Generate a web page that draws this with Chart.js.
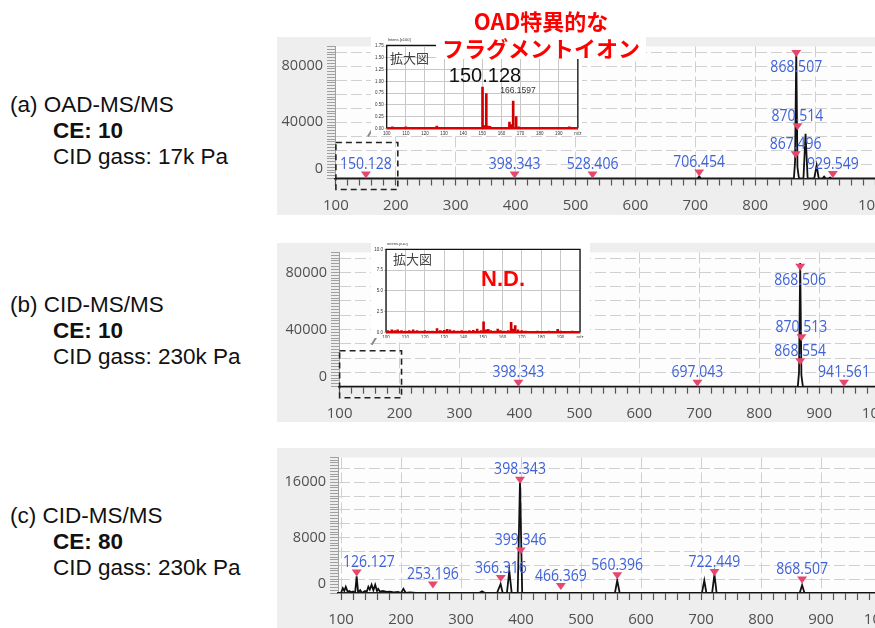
<!DOCTYPE html>
<html lang="ja">
<head>
<meta charset="utf-8">
<title>OAD / CID MS/MS</title>
<script src="https://cdn.jsdelivr.net/npm/chart.js@4.4.1/dist/chart.umd.min.js"></script>
<style>
  body { margin: 0; width: 875px; height: 628px; overflow: hidden; position: relative; background: #fff; font-family: "Liberation Sans", Arial, sans-serif; }
  .panel { position: absolute; left: 277px; width: 598px; background: #eeeeee; }
  canvas { position: absolute; }
  .cond { position: absolute; left: 10px; font-size: 22.5px; line-height: 26px; color: #111; white-space: nowrap; }
  .cond .ind { margin-left: 43px; }
  .txt { position: absolute; white-space: nowrap; transform: translate(-50%, -50%); }
  .tl { position: absolute; white-space: nowrap; transform: translateY(-50%); }
  .red { color: #ff0000; font-family: "Noto Sans CJK JP", sans-serif; font-weight: bold; font-size: 22px; }
  .zoomTitle { font-family: "Noto Sans CJK JP", sans-serif; font-size: 13px; color: #444; }
</style>
</head>
<body>

<div class="panel" style="top:37px;height:178px"></div>
<div class="panel" style="top:243px;height:179px"></div>
<div class="panel" style="top:448px;height:180px"></div>

<canvas id="chartA" width="633" height="182" style="left:277px;top:33px"></canvas>
<canvas id="chartB" width="637" height="183" style="left:277px;top:239px"></canvas>
<canvas id="chartC" width="639" height="184" style="left:277px;top:444px"></canvas>

<canvas id="insetA" width="211" height="100" style="left:371px;top:35px;background:#fff"></canvas>
<canvas id="insetB" width="219" height="95" style="left:371px;top:243px;background:#fff"></canvas>

<!-- conditions -->
<div class="cond" style="top:92px">
  <div>(a) OAD-MS/MS</div>
  <div class="ind"><b>CE: 10</b></div>
  <div class="ind">CID gass: 17k Pa</div>
</div>
<div class="cond" style="top:292px">
  <div>(b) CID-MS/MS</div>
  <div class="ind"><b>CE: 10</b></div>
  <div class="ind">CID gass: 230k Pa</div>
</div>
<div class="cond" style="top:503px">
  <div>(c) CID-MS/MS</div>
  <div class="ind"><b>CE: 80</b></div>
  <div class="ind">CID gass: 230k Pa</div>
</div>

<!-- inset texts -->
<div class="tl zoomTitle" style="left:390px;top:57px">拡大図</div>
<div class="tl zoomTitle" style="left:393px;top:258px">拡大図</div>
<div class="txt" style="left:485px;top:75px;font-size:20px;color:#111">150.128</div>
<div class="txt" style="left:518px;top:90px;font-size:8.5px;color:#333">166.1597</div>
<div class="txt" style="left:503px;top:279px;font-size:22px;font-weight:bold;color:#ff0000">N.D.</div>

<!-- OAD title -->
<div class="txt red" style="left:541px;top:20px">OAD特異的な</div>
<div class="red" style="position:absolute;left:436px;top:36px;width:210px;height:23px;line-height:23px;text-align:center;background:#fff">フラグメントイオン</div>

<script>
// SPECTRE (a) OAD-MS/MS : m/z et intensite du profil
var mzA  = [98.5, 700, 703.5, 706.5, 709.5, 864.5, 866.5, 868.5, 870.5, 873, 880.5, 884, 887.5, 898.5, 902.5, 906, 912, 915, 918, 922, 925, 928, 1057.5];
var intA = [0, 0, 0, 1500, 0, 0, 12000, 91000, 8000, 0, 0, 31900, 0, 0, 9300, 0, 0, 1400, 0, 0, 700, 0, 0];

// SPECTRE (b) CID-MS/MS CE 10
var mzB  = [99, 864.5, 866.5, 868.5, 870.5, 873, 1058];
var intB = [0, 0, 10000, 86600, 8000, 0, 0];

// SPECTRE (c) CID-MS/MS CE 80
var mzC  = [95, 100, 103, 105.5, 108, 111, 114, 117, 120, 123.5, 126.1, 128.5, 132, 135, 140, 143, 145.6, 148, 151, 154,
            157, 160, 162, 165, 170, 176, 182, 188, 195, 200, 204, 208, 215, 225, 330, 335, 340, 360, 366, 369.5,
            376.5, 380.5, 384.5, 394.5, 398.3, 402, 556.5, 560.4, 564.5, 701.5, 705.5, 709, 718.5, 722.4, 726, 864.5, 868.5, 872.5, 1058];
var intC = [0, 0, 700, 300, 900, 200, 300, 100, 200, 0, 2400, 100, 400, 0, 300, 200, 900, 500, 1200, 400,
            1200, 300, 600, 200, 300, 150, 200, 100, 150, 0, 600, 0, 100, 0, 0, 250, 0, 0, 1300, 0,
            0, 3200, 0, 0, 16200, 0, 0, 1800, 0, 0, 1800, 0, 0, 2700, 0, 0, 1150, 0, 0];

// PICS ANNOTES (m/z, intensite du marqueur)
var annA_mz  = [150.128, 398.343, 528.406, 706.454, 868.507, 870.514, 867.496, 929.549];
var annA_int = [0, 0, 0, 1400, 86500, 34400, 14500, 300];
var annB_mz  = [398.343, 697.043, 868.506, 870.513, 868.554, 941.561];
var annB_int = [0, 0, 81200, 31800, 15100, 0];
var annC_mz  = [126.127, 253.196, 366.316, 398.343, 399.346, 466.369, 560.396, 722.449, 868.507];
var annC_int = [2400, 650, 1600, 15800, 5550, 430, 2000, 2450, 1370];

// AGRANDISSEMENTS m/z 100-200
var insA_mz  = [101, 103, 105, 107, 110, 113, 116, 119, 122, 124, 126.2, 128, 131, 134, 137, 140, 143, 146, 148, 150.13,
                151, 152.1, 153, 154, 156, 159, 162, 164.2, 165, 166.16, 167.7, 169, 172, 175, 178, 181, 184, 187, 190, 193, 195.5, 198];
var insA_int = [0.02, 0.03, 0.02, 0.02, 0.03, 0.02, 0.02, 0.02, 0.02, 0.02, 0.05, 0.02, 0.02, 0.02, 0.02, 0.02, 0.02, 0.02, 0.02, 0.88,
                0.06, 0.74, 0.05, 0.04, 0.02, 0.02, 0.02, 0.13, 0.08, 0.58, 0.25, 0.03, 0.02, 0.02, 0.02, 0.02, 0.02, 0.02, 0.02, 0.02, 0.03, 0.02];
var insB_mz  = [101, 103, 104.5, 106, 108, 110, 112, 114, 116, 118, 120, 122, 124, 126.3, 128, 130, 131.5, 133, 135, 137,
                139, 141, 143, 145, 147, 149, 150.3, 151.5, 152.7, 154, 156, 157.6, 159, 161, 163, 164.5, 165.5, 166.6, 168, 170,
                172, 175, 178, 181, 184, 187, 188.5, 190, 193, 196, 199];
var insB_int = [0.2, 0.3, 0.2, 0.3, 0.2, 0.15, 0.2, 0.3, 0.2, 0.15, 0.2, 0.15, 0.15, 0.45, 0.2, 0.25, 0.35, 0.3, 0.2, 0.15,
                0.2, 0.15, 0.2, 0.25, 0.38, 0.2, 1.26, 0.3, 0.36, 0.2, 0.15, 0.4, 0.2, 0.15, 0.2, 1.2, 0.4, 0.8, 0.3, 0.2,
                0.15, 0.1, 0.15, 0.1, 0.15, 0.1, 0.35, 0.15, 0.1, 0.15, 0.1];

// fond blanc de la zone de trace
var plotBg = {
  id: 'plotBg',
  beforeDraw: function (chart, args, opts) {
    var a = chart.chartArea, ctx = chart.ctx;
    ctx.save();
    ctx.fillStyle = opts.color || '#fff';
    ctx.fillRect(a.left, a.top, a.right - a.left, a.bottom - a.top);
    ctx.restore();
  }
};

// triangles roses + etiquettes bleues, cadre pointille du zoom
var peakMarks = {
  id: 'peakMarks',
  afterDatasetsDraw: function (chart, args, opts) {
    var ctx = chart.ctx, xs = chart.scales.x, ys = chart.scales.y, a = chart.chartArea;
    ctx.save();
    if (opts.box) {
      var bx1 = xs.getPixelForValue(opts.box[0]);
      var bx2 = xs.getPixelForValue(opts.box[1]) + 2;
      var by0 = ys.getPixelForValue(0);
      ctx.strokeStyle = '#222';
      ctx.lineWidth = 1.6;
      ctx.setLineDash([6, 4]);
      ctx.strokeRect(bx1, by0 - 36, bx2 - bx1, 47);
      ctx.setLineDash([]);
      ctx.strokeStyle = '#8a8a8a';
      ctx.lineWidth = 2;
      ctx.beginPath();
      ctx.moveTo(bx1 + 32, by0 - 42);
      ctx.lineTo(bx1 + 37, by0 - 50);
      ctx.stroke();
    }
    ctx.font = '16.5px "Open Sans"';
    ctx.textAlign = 'center';
    ctx.textBaseline = 'middle';
    opts.mz.forEach(function (m, i) {
      var px = xs.getPixelForValue(m), py = ys.getPixelForValue(opts.inten[i]);
      ctx.fillStyle = '#e5486c';
      ctx.beginPath();
      ctx.moveTo(px - 5, py - 7);
      ctx.lineTo(px + 5, py - 7);
      ctx.lineTo(px, py);
      ctx.closePath();
      ctx.fill();
      var txt = m.toFixed(3);
      var w = ctx.measureText(txt).width * 0.85;
      var cy = py - 14;
      if (cy - 7 < a.top) cy = py + 10;
      var cx = Math.min(Math.max(px, a.left + w / 2 + 5), a.right - w / 2 - 2);
      ctx.save();
      ctx.translate(cx, cy);
      ctx.scale(0.85, 1);
      ctx.fillStyle = '#3f62d9';
      ctx.fillText(txt, 0, 0);
      ctx.restore();
    });
    ctx.restore();
  }
};

// cadre noir et ligne de base rouge des agrandissements
var insetFrame = {
  id: 'insetFrame',
  afterDatasetsDraw: function (chart, args, opts) {
    var a = chart.chartArea, ctx = chart.ctx, y0 = chart.scales.y.getPixelForValue(0);
    ctx.save();
    ctx.strokeStyle = '#111';
    ctx.lineWidth = 1.3;
    ctx.beginPath();
    ctx.moveTo(a.left, a.bottom);
    ctx.lineTo(a.left, a.top);
    ctx.lineTo(a.right, a.top);
    ctx.lineTo(a.right, a.bottom);
    ctx.stroke();
    ctx.strokeStyle = '#dd0000';
    ctx.lineWidth = 2.5;
    ctx.beginPath();
    ctx.moveTo(a.left, y0);
    ctx.lineTo(a.right, y0);
    ctx.stroke();
    ctx.fillStyle = '#333';
    ctx.font = '4px "Liberation Sans"';
    ctx.textBaseline = 'middle';
    ctx.fillText(opts.unit, a.left + 1, a.top - 5);
    ctx.restore();
  }
};

function drawSpectrum(id, mz, inten, annMz, annInt, lay) {
  var points = mz.map(function (m, i) { return { x: m, y: inten[i] }; });
  var canvas = document.getElementById(id);
  // 0.6 px par unite m/z
  canvas.width = Math.round(lay.leftW + (lay.xMax - lay.xMin) * 0.6);
  return new Chart(canvas, {
    type: 'line',
    data: {
      datasets: [{ data: points, borderColor: '#111', borderWidth: 1.8, pointRadius: 0, tension: 0, fill: false }]
    },
    options: {
      responsive: false,
      animation: false,
      events: [],
      layout: { padding: { top: lay.top, left: 0, right: 0, bottom: 0 } },
      plugins: {
        legend: { display: false },
        tooltip: { enabled: false },
        plotBg: { color: '#fdfdfd' },
        peakMarks: { mz: annMz, inten: annInt, box: lay.box }
      },
      scales: {
        x: {
          type: 'linear',
          min: lay.xMin,
          max: lay.xMax,
          afterFit: function (s) { s.height = lay.xAxis; },
          ticks: {
            stepSize: 20, autoSkip: false, includeBounds: false, maxRotation: 0, padding: 11,
            color: '#505050', font: { family: 'Open Sans', size: 15 },
            callback: function (v) { return Math.round(v) % 100 === 0 ? String(Math.round(v)) : ''; }
          },
          grid: {
            color: function (c) { return c.tick && Math.round(c.tick.value) % 100 === 0 ? '#d0d0d0' : 'rgba(0,0,0,0)'; },
            tickColor: '#555', tickLength: 7, tickWidth: 1.2
          },
          border: { color: '#222', width: 1.5, dash: [11, 4] }
        },
        y: {
          min: 0,
          max: lay.yMax,
          afterFit: function (s) { s.width = lay.leftW; },
          ticks: {
            stepSize: lay.ruler, autoSkip: false, includeBounds: false, padding: 4,
            color: '#505050', font: { family: 'Open Sans', size: 14.5, lineHeight: 1.3 },
            callback: function (v) {
              var r = Math.round(v);
              if (r === 0) return ['0', ''];
              return r % lay.labelStep === 0 ? String(r) : '';
            }
          },
          grid: {
            color: function (c) {
              var v = c.tick ? Math.round(c.tick.value) : 0;
              return (v && v % lay.gridStep === 0) ? '#d0d0d0' : 'rgba(0,0,0,0)';
            },
            tickColor: '#a0a0a0', tickLength: 8, tickWidth: 1
          },
          border: { color: '#a0a0a0', width: 1, dash: [11, 4] }
        }
      }
    },
    plugins: [plotBg, peakMarks]
  });
}

function drawInset(id, mz, inten, lay) {
  var points = mz.map(function (m, i) { return { x: m, y: inten[i] }; });
  return new Chart(document.getElementById(id), {
    type: 'bar',
    data: { datasets: [{ data: points, backgroundColor: '#d10000', barThickness: 2 }] },
    options: {
      responsive: false,
      animation: false,
      events: [],
      layout: { padding: { top: lay.top, right: lay.right, left: 0, bottom: 0 } },
      plugins: { legend: { display: false }, tooltip: { enabled: false }, insetFrame: { unit: lay.unit } },
      scales: {
        x: {
          type: 'linear', min: 100, max: 200, offset: false,
          afterFit: function (s) { s.height = lay.xAxis; },
          ticks: {
            stepSize: 10, autoSkip: false, maxRotation: 0, padding: 0.5, color: '#333',
            font: { family: 'Liberation Sans', size: 4.5 },
            callback: function (v) { return v === 200 ? 'm/z' : String(v); }
          },
          grid: { color: '#c8c8c8', tickLength: 2, offset: false },
          border: { display: false }
        },
        y: {
          min: 0, max: lay.yMax,
          afterFit: function (s) { s.width = lay.leftW; },
          ticks: {
            stepSize: lay.yStep, autoSkip: false, includeBounds: false, padding: 1, color: '#333',
            font: { family: 'Liberation Sans', size: 4.5 },
            callback: function (v) { return v.toFixed(lay.dec); }
          },
          grid: { color: '#c8c8c8', tickLength: 2 },
          border: { display: false }
        }
      }
    },
    plugins: [insetFrame]
  });
}

// yMax multiple du pas de la regle, sinon chart.js recalcule un pas non entier
// (xMax - xMin) / 20 non entier, et ~18 unites apres le dernier tick pour eviter le padding droit
drawSpectrum('chartA', mzA, intA, annA_mz, annA_int,
  { top: 12, xAxis: 36.5, leftW: 58, xMin: 98.5, xMax: 1057.5, yMax: 94000, ruler: 2000, gridStep: 10000, labelStep: 40000, box: [100, 200] });
drawSpectrum('chartB', mzB, intB, annB_mz, annB_int,
  { top: 12.7, xAxis: 35.3, leftW: 62, xMin: 99, xMax: 1058, yMax: 94000, ruler: 2000, gridStep: 10000, labelStep: 40000, box: [100, 200] });
drawSpectrum('chartC', mzC, intC, annC_mz, annC_int,
  { top: 12.7, xAxis: 35, leftW: 61, xMin: 95, xMax: 1058, yMax: 19600, ruler: 400, gridStep: 2000, labelStep: 8000, box: null });

drawInset('insetA', insA_mz, insA_int, { top: 10.3, right: 2.7, xAxis: 6.7, leftW: 15.7, yMax: 1.77, yStep: 0.25, dec: 2, unit: 'Intens.[x100]' });
drawInset('insetB', insB_mz, insB_int, { top: 6.3, right: 10, xAxis: 5.7, leftW: 15, yMax: 10, yStep: 2.5, dec: 1, unit: 'Intens.[x10]' });
</script>
</body>
</html>
